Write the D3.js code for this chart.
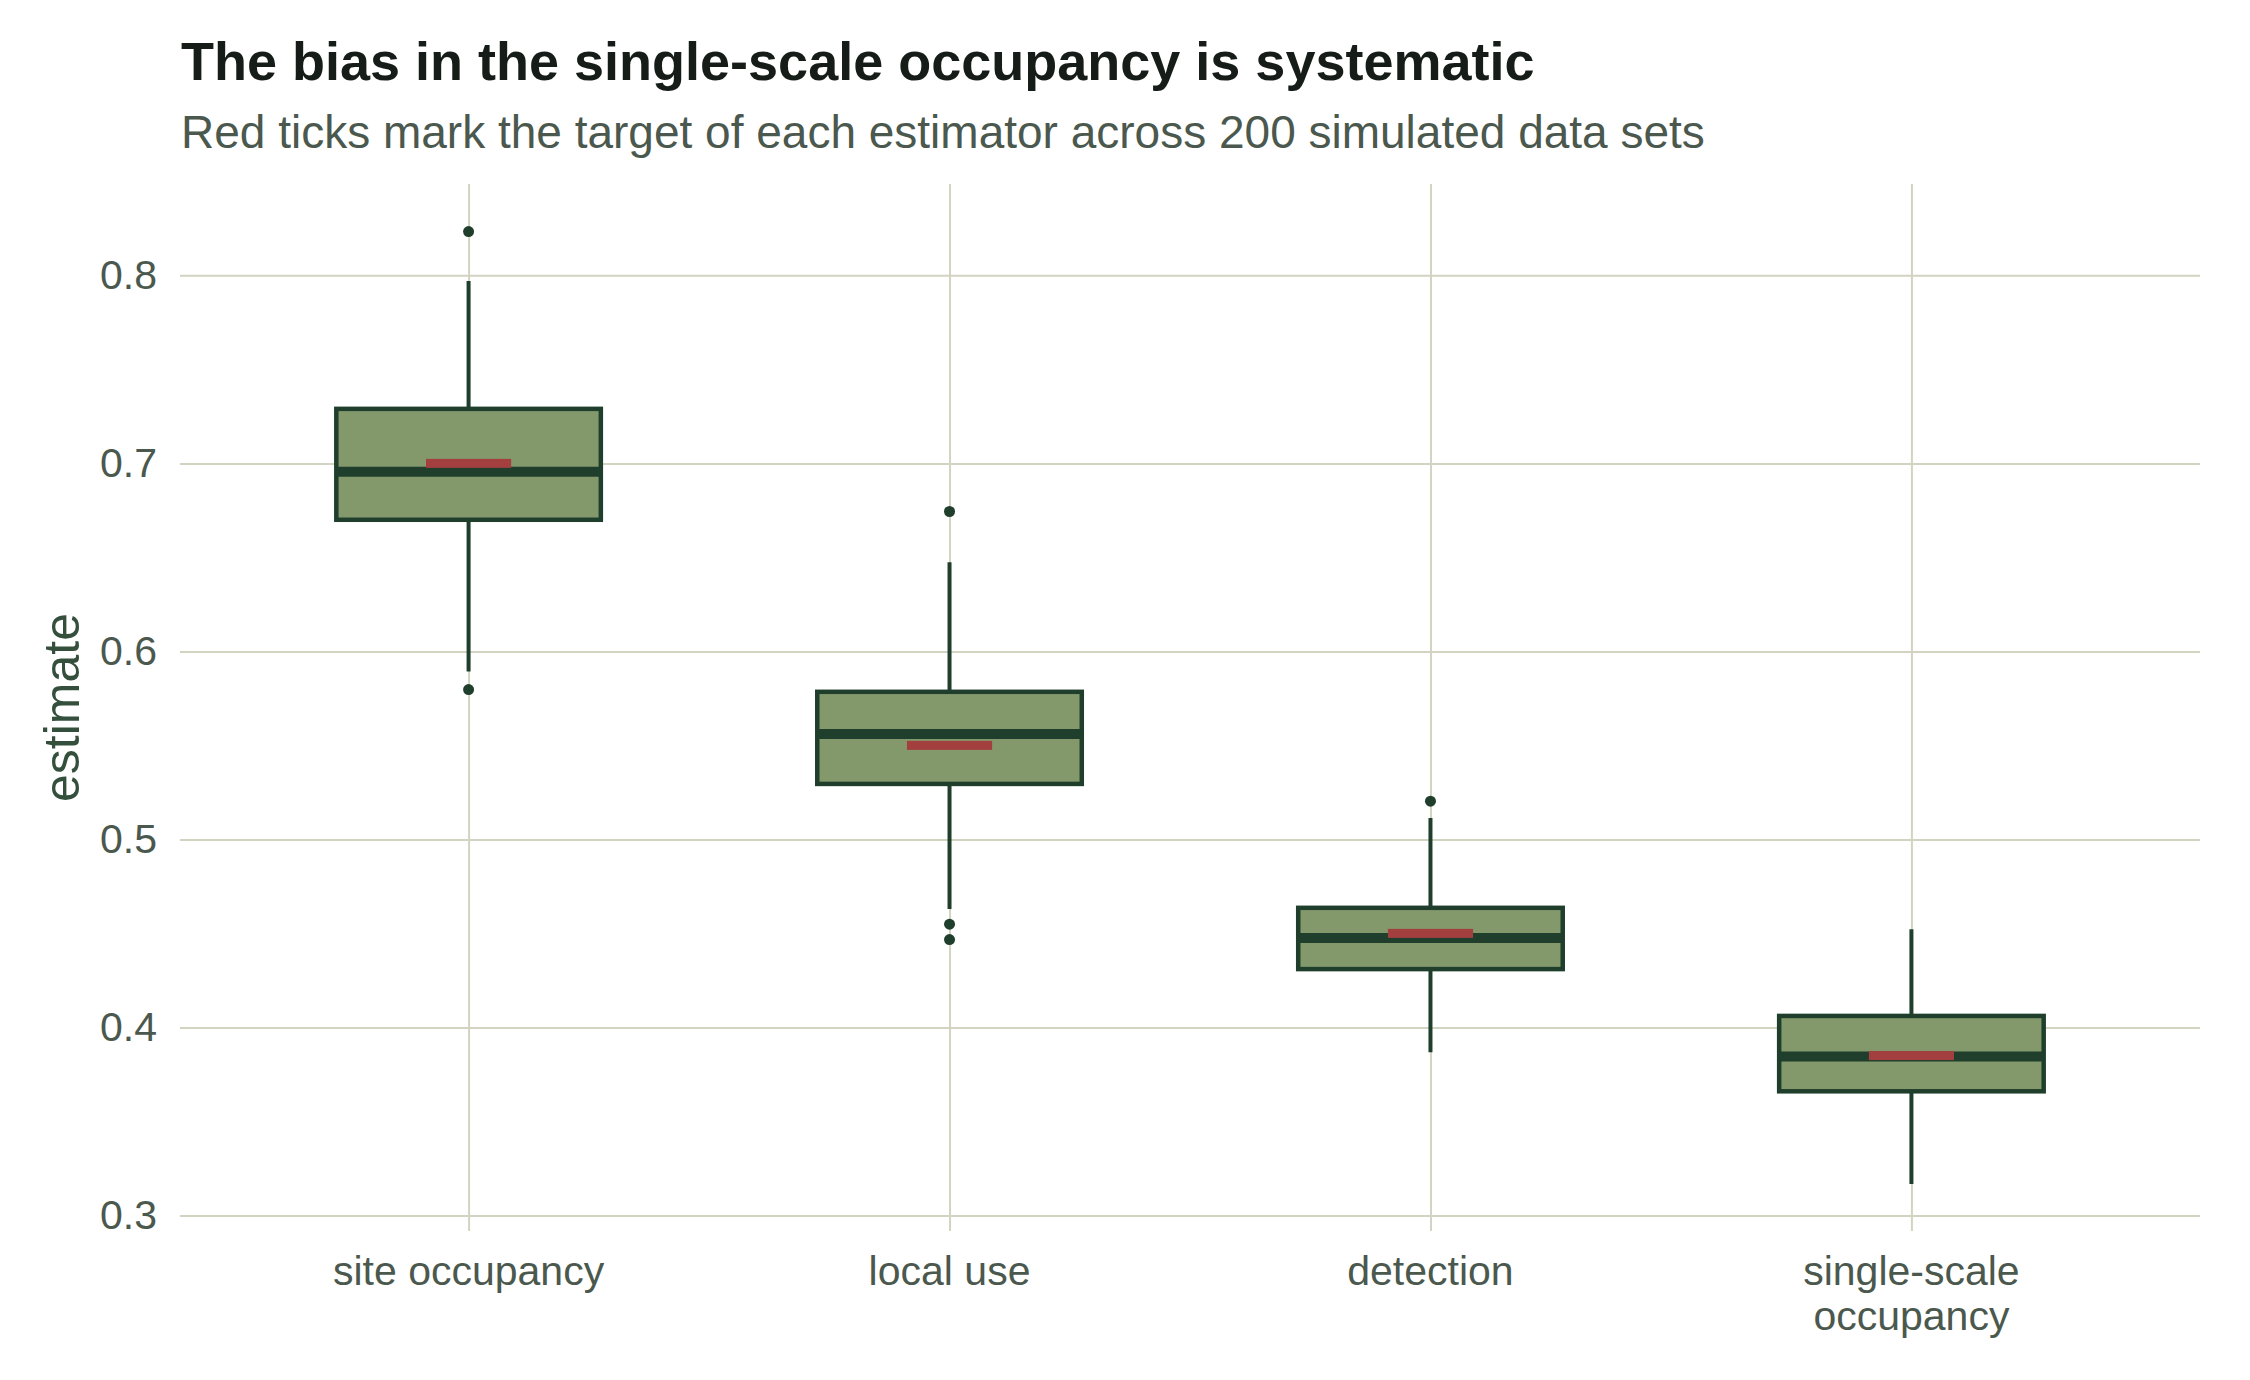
<!DOCTYPE html>
<html>
<head>
<meta charset="utf-8">
<script src="https://cdn.jsdelivr.net/npm/d3@7"></script>
<style>
  body { margin: 0; background: #fff; }
  text { font-family: "Liberation Sans", Arial, Helvetica, sans-serif; }
</style>
</head>
<body>
<script>
// estimator names (x axis)
var categories = ["site occupancy", "local use", "detection", "single-scale occupancy"];
var labelLines = [["site occupancy"], ["local use"], ["detection"], ["single-scale", "occupancy"]];

// box stats
var q1 = [0.670, 0.5295, 0.431, 0.366];
var medians = [0.6955, 0.556, 0.4476, 0.3845];
var q3 = [0.729, 0.5785, 0.4636, 0.4061];
var whiskerLow = [0.5893, 0.463, 0.3868, 0.3167];
var whiskerHigh = [0.797, 0.6474, 0.5114, 0.4522];
var outliers = [[0.8233, 0.5797], [0.6744, 0.4549, 0.4467], [0.5203], []];
var targets = [0.70, 0.55, 0.45, 0.385];

var yTicks = [0.3, 0.4, 0.5, 0.6, 0.7, 0.8];

//Width and height
var w = 2250;
var h = 1380;
var pLeft = 180, pRight = 2200, pTop = 184, pBottom = 1231;

var dark = "#1f3f2c";
var fill = "#83986b";
var red = "#a33f3f";
var grid = "#d3d3c1";
var labelCol = "#4b584e";

var svg = d3.select("body")
  .append("svg")
  .attr("width", w)
  .attr("height", h);

var x = d3.scalePoint()
  .domain(categories)
  .range([pLeft, pRight])
  .padding(0.6);

var y = d3.scaleLinear()
  .domain([0.2917, 0.8486])
  .range([pBottom, pTop]);

var step = x.step();
var boxW = step * 0.55;
var tickW = step * 0.177;

// horizontal grid + y labels
var yAxis = svg.append("g")
  .attr("transform", "translate(" + pLeft + ",0)")
  .call(d3.axisLeft(y).tickValues(yTicks).tickFormat(d3.format(".1f"))
    .tickSize(-(pRight - pLeft)).tickPadding(23));
yAxis.select(".domain").remove();
yAxis.selectAll("line").attr("stroke", grid).attr("stroke-width", 2);
yAxis.selectAll("text")
  .attr("fill", labelCol)
  .attr("font-size", "41px");

// vertical grid + x labels
var xAxis = svg.append("g")
  .attr("transform", "translate(0," + pBottom + ")")
  .call(d3.axisBottom(x).tickSize(-(pBottom - pTop)).tickFormat(""));
xAxis.select(".domain").remove();
xAxis.selectAll("line").attr("stroke", grid).attr("stroke-width", 2);

var xl = svg.selectAll("text.xlab")
  .data(categories)
  .enter()
  .append("text")
  .attr("class", "xlab")
  .attr("text-anchor", "middle")
  .attr("font-size", "41px")
  .attr("fill", labelCol)
  .attr("y", 1285);
xl.selectAll("tspan")
  .data(function(d, i) { return labelLines[i].map(function(t) { return { t: t, c: d }; }); })
  .enter()
  .append("tspan")
  .attr("x", function(d) { return x(d.c); })
  .attr("dy", function(d, j) { return j === 0 ? 0 : 45; })
  .text(function(d) { return d.t; });

var boxes = svg.selectAll("g.box")
  .data(categories)
  .enter()
  .append("g")
  .attr("class", "box");

// whiskers
boxes.append("line")
  .attr("x1", function(d) { return x(d); })
  .attr("x2", function(d) { return x(d); })
  .attr("y1", function(d, i) { return y(whiskerHigh[i]); })
  .attr("y2", function(d, i) { return y(whiskerLow[i]); })
  .attr("stroke", dark)
  .attr("stroke-width", 4);

// box
boxes.append("rect")
  .attr("x", function(d) { return x(d) - boxW / 2; })
  .attr("y", function(d, i) { return y(q3[i]); })
  .attr("width", boxW)
  .attr("height", function(d, i) { return y(q1[i]) - y(q3[i]); })
  .attr("fill", fill)
  .attr("stroke", dark)
  .attr("stroke-width", 4.5);

// median
boxes.append("line")
  .attr("x1", function(d) { return x(d) - boxW / 2; })
  .attr("x2", function(d) { return x(d) + boxW / 2; })
  .attr("y1", function(d, i) { return y(medians[i]); })
  .attr("y2", function(d, i) { return y(medians[i]); })
  .attr("stroke", dark)
  .attr("stroke-width", 10);

// outliers
boxes.selectAll("circle")
  .data(function(d, i) { return outliers[i].map(function(v) { return { c: d, v: v }; }); })
  .enter()
  .append("circle")
  .attr("cx", function(d) { return x(d.c); })
  .attr("cy", function(d) { return y(d.v); })
  .attr("r", 5.5)
  .attr("fill", dark);

// red target ticks
boxes.append("rect")
  .attr("x", function(d) { return x(d) - tickW / 2; })
  .attr("y", function(d, i) { return y(targets[i]) - 4.5; })
  .attr("width", tickW)
  .attr("height", 9)
  .attr("fill", red);

// y axis title
svg.append("text")
  .attr("transform", "translate(79," + ((pTop + pBottom) / 2) + ") rotate(-90)")
  .attr("text-anchor", "middle")
  .attr("font-size", "50px")
  .attr("fill", "#34503c")
  .text("estimate");

// title and subtitle
svg.append("text")
  .attr("x", 181)
  .attr("y", 80)
  .attr("font-size", "54px")
  .attr("font-weight", "bold")
  .attr("fill", "#161d19")
  .text("The bias in the single-scale occupancy is systematic");

svg.append("text")
  .attr("x", 181)
  .attr("y", 148)
  .attr("font-size", "46px")
  .attr("fill", labelCol)
  .text("Red ticks mark the target of each estimator across 200 simulated data sets");
</script>
</body>
</html>
